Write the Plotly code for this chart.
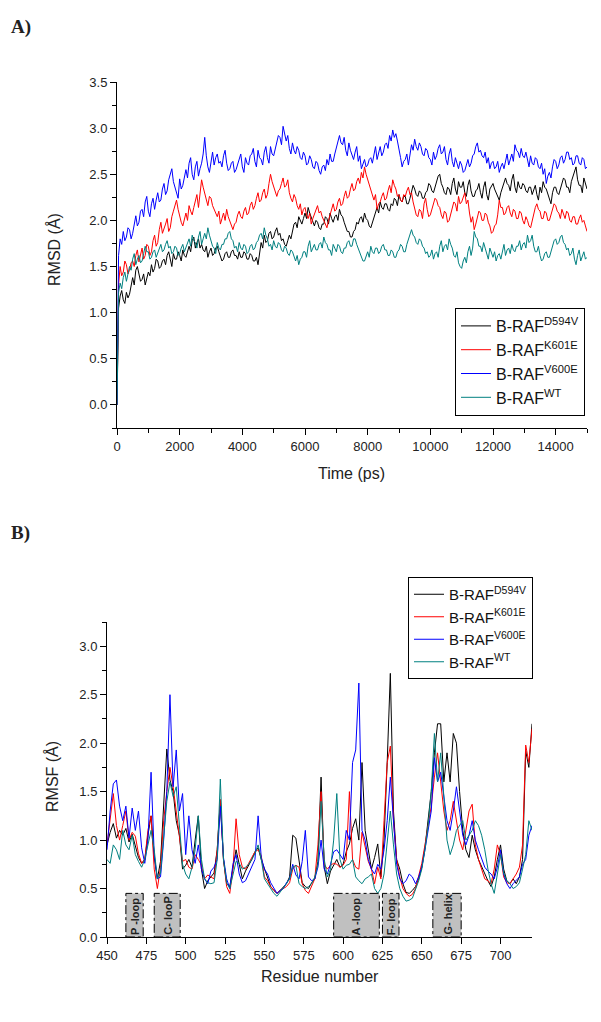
import plotly.graph_objects as go

# ---- panel A: RMSD vs time (read every 50 ps) ----
time_ps = list(range(0, 15001, 50))

rmsd_d594v = [
    0.00, 1.05, 1.18, 1.24, 1.14, 1.10, 1.22, 1.16, 1.20, 1.30, 1.38, 1.30, 1.46, 1.50, 1.42, 1.34, 1.36, 1.42, 1.30, 1.38,
    1.44, 1.40, 1.52, 1.44, 1.48, 1.58, 1.56, 1.48, 1.50, 1.56, 1.58, 1.52, 1.62, 1.66, 1.56, 1.50, 1.64, 1.58, 1.58, 1.66,
    1.62, 1.56, 1.68, 1.62, 1.60, 1.66, 1.72, 1.66, 1.78, 1.82, 1.70, 1.76, 1.80, 1.70, 1.74, 1.68, 1.66, 1.72, 1.60, 1.66,
    1.70, 1.62, 1.64, 1.70, 1.72, 1.66, 1.62, 1.56, 1.58, 1.64, 1.66, 1.60, 1.60, 1.66, 1.68, 1.62, 1.62, 1.58, 1.66, 1.60,
    1.60, 1.66, 1.64, 1.58, 1.58, 1.64, 1.62, 1.56, 1.56, 1.60, 1.52, 1.62, 1.76, 1.70, 1.84, 1.76, 1.78, 1.86, 1.88, 1.80,
    1.82, 1.88, 1.92, 1.84, 1.86, 1.78, 1.80, 1.74, 1.72, 1.78, 1.84, 1.80, 1.90, 1.96, 1.98, 1.92, 2.04, 2.00, 1.96, 2.02,
    2.08, 2.02, 2.14, 2.08, 2.04, 1.98, 1.94, 2.00, 1.98, 1.92, 1.90, 1.96, 1.96, 2.04, 2.02, 1.96, 2.08, 2.02, 1.98, 2.04,
    2.06, 2.00, 2.12, 2.06, 2.04, 1.98, 1.94, 1.88, 1.88, 1.82, 1.82, 1.88, 1.90, 1.98, 1.96, 2.02, 2.04, 1.98, 2.08, 2.02,
    2.00, 1.94, 1.92, 1.98, 2.02, 2.08, 2.14, 2.08, 2.20, 2.14, 2.12, 2.18, 2.18, 2.12, 2.10, 2.18, 2.16, 2.24, 2.22, 2.16,
    2.28, 2.22, 2.20, 2.26, 2.26, 2.18, 2.18, 2.24, 2.30, 2.38, 2.34, 2.28, 2.26, 2.32, 2.30, 2.24, 2.24, 2.30, 2.32, 2.40,
    2.38, 2.32, 2.30, 2.36, 2.42, 2.48, 2.50, 2.40, 2.36, 2.30, 2.28, 2.36, 2.34, 2.28, 2.40, 2.46, 2.34, 2.28, 2.42, 2.36,
    2.36, 2.42, 2.30, 2.26, 2.38, 2.44, 2.32, 2.26, 2.26, 2.32, 2.34, 2.40, 2.30, 2.24, 2.36, 2.42, 2.28, 2.22, 2.34, 2.38,
    2.40, 2.34, 2.30, 2.24, 2.22, 2.30, 2.36, 2.42, 2.46, 2.40, 2.38, 2.32, 2.44, 2.50, 2.36, 2.30, 2.42, 2.36, 2.34, 2.40,
    2.38, 2.32, 2.30, 2.36, 2.36, 2.28, 2.32, 2.38, 2.28, 2.22, 2.36, 2.30, 2.42, 2.36, 2.34, 2.28, 2.24, 2.18, 2.30, 2.36,
    2.36, 2.30, 2.28, 2.34, 2.38, 2.46, 2.44, 2.36, 2.36, 2.30, 2.42, 2.48, 2.52, 2.58, 2.44, 2.38, 2.38, 2.30, 2.46, 2.40,
    2.34]

rmsd_k601e = [
    0.00, 1.30, 1.50, 1.40, 1.44, 1.56, 1.52, 1.42, 1.46, 1.54, 1.56, 1.50, 1.62, 1.68, 1.55, 1.64, 1.70, 1.58, 1.62, 1.74,
    1.72, 1.62, 1.66, 1.78, 1.84, 1.72, 1.76, 1.90, 1.98, 1.86, 1.90, 1.96, 2.02, 1.88, 1.92, 2.04, 2.10, 2.16, 2.22, 2.12,
    2.04, 1.98, 1.94, 2.02, 2.08, 2.00, 2.16, 2.10, 2.06, 2.14, 2.20, 2.28, 2.14, 2.30, 2.44, 2.36, 2.30, 2.22, 2.16, 2.26,
    2.24, 2.16, 2.12, 2.06, 2.04, 2.10, 1.96, 2.02, 2.08, 2.00, 2.12, 2.04, 2.00, 1.94, 1.90, 1.96, 1.98, 2.06, 2.10, 2.04,
    2.02, 2.10, 2.14, 2.06, 2.08, 2.16, 2.20, 2.12, 2.16, 2.24, 2.30, 2.20, 2.22, 2.30, 2.34, 2.24, 2.28, 2.40, 2.50, 2.42,
    2.36, 2.30, 2.26, 2.32, 2.34, 2.40, 2.46, 2.36, 2.38, 2.44, 2.30, 2.24, 2.20, 2.28, 2.24, 2.16, 2.12, 2.18, 2.06, 2.12,
    2.14, 2.06, 2.02, 2.08, 1.96, 2.02, 2.06, 2.12, 2.16, 2.08, 2.10, 2.04, 2.00, 1.94, 1.92, 2.00, 2.06, 2.12, 2.18, 2.10,
    2.12, 2.20, 2.24, 2.16, 2.18, 2.26, 2.32, 2.24, 2.26, 2.34, 2.40, 2.32, 2.34, 2.42, 2.46, 2.40, 2.52, 2.46, 2.58, 2.50,
    2.44, 2.38, 2.34, 2.26, 2.22, 2.28, 2.12, 2.18, 2.20, 2.26, 2.30, 2.22, 2.24, 2.32, 2.38, 2.30, 2.44, 2.38, 2.34, 2.26,
    2.28, 2.22, 2.20, 2.28, 2.26, 2.32, 2.36, 2.28, 2.30, 2.20, 2.12, 2.06, 2.04, 2.12, 2.10, 2.02, 2.18, 2.24, 2.12, 2.04,
    2.06, 2.12, 2.16, 2.24, 2.22, 2.16, 2.14, 2.06, 2.02, 2.10, 2.08, 1.98, 2.00, 2.06, 2.12, 2.20, 2.18, 2.10, 2.26, 2.18,
    2.20, 2.26, 2.30, 2.18, 2.22, 2.08, 1.98, 2.04, 1.90, 1.96, 2.02, 2.10, 2.08, 2.00, 2.00, 2.08, 2.06, 1.98, 1.94, 1.86,
    1.88, 1.94, 1.96, 2.06, 2.22, 2.14, 2.14, 2.06, 2.08, 2.14, 2.16, 2.08, 2.04, 2.12, 2.10, 2.02, 2.02, 2.10, 2.08, 2.00,
    1.96, 2.04, 2.00, 1.94, 1.92, 2.00, 2.06, 2.14, 2.18, 2.12, 2.10, 2.02, 2.02, 2.10, 2.08, 2.00, 2.00, 2.06, 2.10, 2.18,
    2.16, 2.10, 2.08, 2.02, 2.12, 2.06, 2.02, 2.10, 2.08, 2.00, 1.98, 2.04, 2.04, 1.96, 1.96, 2.02, 2.06, 1.98, 2.00, 1.94,
    1.88]

rmsd_v600e = [
    0.00, 1.62, 1.80, 1.74, 1.88, 1.78, 1.82, 1.92, 1.90, 1.80, 1.86, 1.96, 2.05, 1.94, 1.98, 2.10, 2.12, 2.04, 2.20, 2.26,
    2.10, 2.04, 2.18, 2.24, 2.12, 2.22, 2.30, 2.20, 2.22, 2.34, 2.40, 2.28, 2.32, 2.44, 2.50, 2.56, 2.42, 2.36, 2.30, 2.24,
    2.45, 2.34, 2.38, 2.48, 2.55, 2.46, 2.62, 2.68, 2.50, 2.44, 2.58, 2.64, 2.48, 2.56, 2.62, 2.72, 2.90, 2.70, 2.58, 2.52,
    2.66, 2.74, 2.60, 2.68, 2.72, 2.62, 2.64, 2.58, 2.70, 2.76, 2.62, 2.54, 2.56, 2.62, 2.64, 2.52, 2.55, 2.60, 2.66, 2.72,
    2.58, 2.52, 2.68, 2.62, 2.60, 2.70, 2.72, 2.78, 2.64, 2.58, 2.76, 2.68, 2.66, 2.60, 2.74, 2.80, 2.68, 2.62, 2.80, 2.72,
    2.70, 2.78, 2.84, 2.92, 2.90, 2.82, 3.02, 2.94, 2.86, 2.92, 2.78, 2.72, 2.84, 2.76, 2.72, 2.80, 2.76, 2.68, 2.66, 2.74,
    2.70, 2.60, 2.62, 2.70, 2.66, 2.58, 2.56, 2.64, 2.62, 2.54, 2.50, 2.58, 2.60, 2.54, 2.66, 2.60, 2.72, 2.64, 2.64, 2.72,
    2.78, 2.86, 2.92, 2.84, 2.82, 2.90, 2.76, 2.70, 2.84, 2.76, 2.70, 2.66, 2.74, 2.80, 2.64, 2.70, 2.56, 2.62, 2.66, 2.58,
    2.60, 2.66, 2.68, 2.62, 2.72, 2.80, 2.66, 2.74, 2.80, 2.70, 2.74, 2.82, 2.84, 2.78, 2.92, 2.86, 2.98, 2.90, 2.94, 2.86,
    2.78, 2.68, 2.58, 2.64, 2.66, 2.72, 2.60, 2.70, 2.82, 2.76, 2.88, 2.80, 2.76, 2.84, 2.80, 2.72, 2.70, 2.78, 2.76, 2.68,
    2.66, 2.60, 2.74, 2.66, 2.70, 2.78, 2.82, 2.72, 2.74, 2.80, 2.66, 2.60, 2.72, 2.78, 2.64, 2.58, 2.68, 2.62, 2.56, 2.64,
    2.60, 2.52, 2.54, 2.60, 2.66, 2.58, 2.62, 2.70, 2.72, 2.80, 2.84, 2.74, 2.76, 2.70, 2.68, 2.74, 2.62, 2.68, 2.56, 2.62,
    2.64, 2.56, 2.58, 2.64, 2.52, 2.58, 2.62, 2.56, 2.66, 2.72, 2.60, 2.66, 2.72, 2.64, 2.82, 2.76, 2.74, 2.68, 2.78, 2.70,
    2.68, 2.74, 2.64, 2.58, 2.70, 2.62, 2.60, 2.68, 2.66, 2.58, 2.56, 2.62, 2.50, 2.56, 2.40, 2.48, 2.52, 2.46, 2.58, 2.66,
    2.64, 2.56, 2.60, 2.68, 2.70, 2.62, 2.66, 2.74, 2.74, 2.66, 2.68, 2.60, 2.62, 2.70, 2.70, 2.62, 2.60, 2.68, 2.66, 2.56,
    2.58]

rmsd_wt = [
    0.00, 1.22, 1.32, 1.26, 1.38, 1.44, 1.34, 1.42, 1.50, 1.46, 1.58, 1.64, 1.52, 1.58, 1.62, 1.54, 1.56, 1.64, 1.72, 1.66,
    1.66, 1.58, 1.60, 1.66, 1.68, 1.60, 1.64, 1.70, 1.74, 1.66, 1.68, 1.74, 1.78, 1.70, 1.72, 1.64, 1.66, 1.72, 1.70, 1.62,
    1.64, 1.70, 1.74, 1.66, 1.70, 1.76, 1.80, 1.72, 1.84, 1.78, 1.76, 1.70, 1.82, 1.88, 1.74, 1.80, 1.86, 1.80, 1.92, 1.84,
    1.78, 1.72, 1.70, 1.64, 1.76, 1.70, 1.68, 1.74, 1.74, 1.80, 1.80, 1.86, 1.88, 1.80, 1.78, 1.70, 1.72, 1.66, 1.76, 1.70,
    1.68, 1.74, 1.72, 1.64, 1.66, 1.72, 1.74, 1.68, 1.70, 1.76, 1.78, 1.84, 1.86, 1.80, 1.92, 1.84, 1.80, 1.72, 1.74, 1.68,
    1.78, 1.72, 1.70, 1.76, 1.74, 1.68, 1.66, 1.72, 1.70, 1.64, 1.62, 1.68, 1.66, 1.60, 1.56, 1.62, 1.52, 1.58, 1.60, 1.66,
    1.66, 1.60, 1.72, 1.78, 1.66, 1.70, 1.74, 1.68, 1.68, 1.74, 1.76, 1.70, 1.82, 1.76, 1.74, 1.68, 1.68, 1.62, 1.74, 1.70,
    1.66, 1.74, 1.72, 1.66, 1.64, 1.70, 1.70, 1.76, 1.78, 1.72, 1.72, 1.80, 1.80, 1.74, 1.70, 1.64, 1.62, 1.56, 1.56, 1.62,
    1.66, 1.60, 1.72, 1.66, 1.64, 1.70, 1.70, 1.64, 1.66, 1.72, 1.74, 1.68, 1.68, 1.62, 1.62, 1.68, 1.66, 1.60, 1.60, 1.66,
    1.68, 1.74, 1.72, 1.66, 1.66, 1.74, 1.80, 1.86, 1.90, 1.84, 1.82, 1.76, 1.74, 1.80, 1.78, 1.72, 1.70, 1.64, 1.66, 1.60,
    1.62, 1.68, 1.58, 1.64, 1.66, 1.60, 1.72, 1.78, 1.66, 1.72, 1.74, 1.68, 1.80, 1.74, 1.70, 1.62, 1.60, 1.66, 1.54, 1.50,
    1.48, 1.56, 1.60, 1.54, 1.66, 1.72, 1.62, 1.70, 1.88, 1.82, 1.80, 1.72, 1.72, 1.66, 1.76, 1.70, 1.64, 1.58, 1.70, 1.64,
    1.60, 1.66, 1.56, 1.62, 1.64, 1.58, 1.68, 1.74, 1.62, 1.68, 1.70, 1.64, 1.74, 1.68, 1.66, 1.72, 1.72, 1.78, 1.68, 1.74,
    1.76, 1.70, 1.84, 1.76, 1.78, 1.84, 1.72, 1.66, 1.66, 1.72, 1.62, 1.56, 1.58, 1.64, 1.66, 1.60, 1.60, 1.66, 1.72, 1.78,
    1.80, 1.74, 1.76, 1.82, 1.84, 1.76, 1.74, 1.68, 1.70, 1.62, 1.64, 1.70, 1.58, 1.52, 1.62, 1.68, 1.56, 1.62, 1.66, 1.58,
    1.60]

# ---- panel B: RMSF per residue (every 2nd residue) ----
residues = list(range(450, 721, 2))

rmsf_d594v = [0.95, 1.08, 1.17, 1.02, 1.10, 1.05, 1.12, 0.98, 1.06, 0.95,
              0.82, 0.76, 0.80, 1.05, 1.25, 0.82, 0.60, 0.78, 1.35, 1.94,
              1.62, 1.50, 1.20, 1.05, 0.70, 0.74, 0.80, 0.72, 1.00, 1.25,
              0.70, 0.50, 0.58, 0.62, 0.66, 0.90, 1.40, 0.80, 0.55, 0.52,
              0.70, 0.90, 0.75, 0.60, 0.68, 0.74, 0.80, 0.88, 0.92, 0.80,
              0.70, 0.62, 0.52, 0.48, 0.45, 0.48, 0.52, 0.55, 0.62, 1.05,
              1.02, 0.80, 0.56, 0.52, 0.50, 0.56, 0.60, 0.78, 1.65, 0.72,
              0.55, 0.68, 0.74, 0.80, 0.72, 0.75, 0.88, 0.96, 1.12, 1.22,
              1.00, 1.80, 1.10, 0.90, 0.70, 0.82, 0.96, 0.62, 1.00, 1.80,
              2.72, 1.30, 0.80, 0.70, 0.55, 0.46, 0.45, 0.48, 0.52, 0.60,
              0.72, 0.92, 1.18, 1.50, 1.90, 2.20, 2.20, 1.60, 1.90, 1.60,
              2.10, 2.00, 1.50, 1.10, 0.90, 0.82, 1.05, 0.90, 0.80, 0.72,
              0.65, 0.58, 0.52, 0.62, 0.80, 0.95, 0.70, 0.58, 0.55, 0.60,
              0.55, 0.62, 0.80, 1.92, 1.75, 2.20]

rmsf_k601e = [0.95, 1.25, 1.48, 1.15, 1.00, 1.15, 1.30, 1.00, 1.08, 1.04,
              0.86, 0.76, 0.80, 1.10, 1.25, 0.70, 0.50, 0.72, 1.20, 1.50,
              1.75, 1.55, 1.30, 1.00, 0.78, 0.80, 0.72, 0.70, 0.85, 0.80,
              0.74, 0.60, 0.64, 0.62, 0.60, 0.90, 1.42, 0.80, 0.52, 0.45,
              0.70, 1.22, 0.85, 0.72, 0.70, 0.76, 0.82, 0.88, 0.90, 0.84,
              0.62, 0.58, 0.52, 0.48, 0.45, 0.48, 0.50, 0.52, 0.56, 0.70,
              0.74, 0.72, 0.55, 0.48, 0.45, 0.52, 0.60, 0.95, 1.50, 0.75,
              0.70, 0.74, 0.76, 0.75, 0.72, 0.74, 0.80, 1.50, 0.80, 0.72,
              0.70, 1.08, 0.92, 0.78, 0.70, 0.55, 0.72, 0.60, 1.20, 1.80,
              1.97, 1.20, 0.80, 0.62, 0.50, 0.45, 0.42, 0.44, 0.50, 0.62,
              0.76, 0.95, 1.15, 1.35, 1.65, 1.90, 1.60, 1.30, 1.10, 1.20,
              1.40, 1.20, 1.00, 0.90, 1.10, 1.30, 1.37, 0.95, 0.80, 0.70,
              0.60, 0.58, 0.55, 0.70, 0.95, 0.85, 0.62, 0.56, 0.55, 0.60,
              0.65, 0.72, 0.95, 1.98, 1.80, 2.15]

rmsf_v600e = [0.90, 1.30, 1.58, 1.62, 1.35, 1.20, 1.35, 1.02, 1.33, 1.10,
              1.30, 0.92, 0.76, 1.00, 1.70, 0.85, 0.60, 0.62, 1.00, 1.50,
              2.50, 1.55, 1.93, 1.30, 1.48, 0.85, 1.25, 0.90, 0.76, 0.95,
              0.70, 0.60, 0.55, 0.68, 0.72, 0.80, 1.35, 0.82, 0.60, 0.50,
              0.75, 0.85, 0.65, 0.56, 0.58, 0.65, 0.72, 0.80, 1.25, 0.82,
              0.70, 0.65, 0.56, 0.50, 0.45, 0.48, 0.50, 0.56, 0.60, 0.75,
              0.64, 0.60, 0.78, 1.10, 0.62, 0.58, 0.60, 0.72, 1.00, 0.70,
              0.65, 0.75, 0.88, 0.90, 0.85, 0.80, 1.10, 1.00, 1.80, 1.93,
              2.62, 1.10, 1.00, 0.80, 0.70, 0.65, 0.75, 0.70, 0.90, 1.20,
              1.65, 1.20, 0.75, 0.60, 0.55, 0.58, 0.65, 0.62, 0.55, 0.62,
              0.72, 0.90, 1.10, 1.30, 1.85, 1.60, 1.70, 1.45, 1.20, 1.10,
              1.30, 1.55, 1.30, 1.05, 0.95, 1.05, 1.20, 1.00, 0.90, 0.80,
              0.72, 0.68, 0.65, 0.60, 0.72, 0.90, 0.65, 0.55, 0.50, 0.55,
              0.58, 0.62, 0.75, 0.80, 1.05, 1.15]

rmsf_wt = [0.80, 0.76, 0.95, 0.90, 0.80, 1.10, 0.95, 0.90, 1.05, 0.85,
           0.78, 0.72, 0.80, 0.95, 1.10, 0.90, 0.60, 0.66, 1.00, 1.40,
           1.60, 1.45, 1.55, 1.10, 0.75, 0.65, 0.60, 0.72, 0.90, 1.25,
           0.80, 0.60, 0.56, 0.55, 0.56, 0.80, 1.63, 0.80, 0.56, 0.50,
           0.65, 0.78, 0.76, 0.70, 0.72, 0.75, 0.80, 0.86, 0.95, 0.80,
           0.60, 0.55, 0.50, 0.45, 0.42, 0.46, 0.50, 0.55, 0.60, 0.72,
           0.74, 0.55, 0.52, 0.50, 0.52, 0.55, 0.62, 0.75, 1.40, 0.80,
           0.62, 0.70, 1.00, 1.48, 0.80, 0.70, 0.74, 0.75, 0.80, 0.62,
           0.58, 0.55, 0.60, 0.62, 0.65, 0.50, 0.45, 0.50, 0.65, 0.95,
           1.30, 0.95, 0.65, 0.50, 0.42, 0.37, 0.38, 0.40, 0.48, 0.58,
           0.70, 0.90, 1.15, 1.50, 2.10, 1.60, 1.90, 1.40, 1.00, 0.85,
           0.95, 1.10, 1.15, 1.20, 1.00, 1.05, 1.10, 1.20, 1.15, 1.05,
           0.90, 0.70, 0.55, 0.45, 0.65, 0.85, 0.66, 0.58, 0.55, 0.50,
           0.52, 0.56, 0.70, 0.85, 1.20, 1.10]

# structural regions marked under the RMSF curves
region_labels = ["P -loop", "C- looP", "A -loop", "F- loop", "G- helix"]
region_start = [462, 480, 594, 625, 657]
region_end = [473, 496.5, 623, 635.5, 675]
region_top = 0.45

names = ["B-RAF<sup>D594V</sup>", "B-RAF<sup>K601E</sup>",
         "B-RAF<sup>V600E</sup>", "B-RAF<sup>WT</sup>"]
colors = ["#000000", "#ff0000", "#0000ff", "#008080"]

FONT = "Liberation Sans, Arial, sans-serif"
SERIF = "Liberation Serif, Times New Roman, serif"

# page has an 8px body margin, so the figure is sized to fit inside it
OFF = 8
W, H = 601 - 2 * OFF, 1022 - 2 * OFF


def fx(px):
    return (px - OFF) / W


def fy(py):
    return 1 - (py - OFF) / H


fig = go.Figure()

for name, col, ys in zip(names, colors, [rmsd_d594v, rmsd_k601e, rmsd_v600e, rmsd_wt]):
    fig.add_trace(go.Scatter(x=time_ps, y=ys, mode="lines", name=name,
                             line=dict(color=col, width=1),
                             xaxis="x", yaxis="y", legend="legend"))

for name, col, ys in zip(names, colors, [rmsf_d594v, rmsf_k601e, rmsf_v600e, rmsf_wt]):
    fig.add_trace(go.Scatter(x=residues, y=ys, mode="lines", name=name,
                             line=dict(color=col, width=1),
                             xaxis="x2", yaxis="y2", legend="legend2"))

shapes = []
annots = []
for lab, x0, x1 in zip(region_labels, region_start, region_end):
    shapes.append(dict(type="rect", xref="x2", yref="y2", x0=x0, x1=x1,
                       y0=0, y1=region_top, fillcolor="#c0c0c0",
                       line=dict(color="black", width=1, dash="dashdot"),
                       layer="above"))
    annots.append(dict(text="<b>%s</b>" % lab, xref="x2", yref="y2",
                       x=(x0 + x1) / 2, y=0.0, xanchor="center", yanchor="bottom",
                       textangle=-90, showarrow=False,
                       font=dict(size=11, color="#222", family=FONT)))


def label(text, px, py, size=16, angle=0, family=FONT, xanchor="center"):
    return dict(text=text, xref="paper", yref="paper", x=fx(px), y=fy(py),
                xanchor=xanchor, yanchor="middle", textangle=angle, showarrow=False,
                font=dict(size=size, family=family, color="#222"))


annots += [
    label("<b>A)</b>", 9, 27, size=19, family=SERIF, xanchor="left"),
    label("<b>B)</b>", 9, 533, size=19, family=SERIF, xanchor="left"),
    label("Time (ps)", 351, 473),
    label("RMSD (Å)", 54, 250, angle=-90),
    label("Residue number", 320, 976),
    label("RMSF (Å)", 52, 777, angle=-90),
]

axis_style = dict(showgrid=False, zeroline=False, showline=True, linecolor="black",
                  linewidth=1, ticks="outside", ticklen=6, tickcolor="black",
                  automargin=False,
                  tickfont=dict(size=13, family=FONT, color="#222"))
minor_y = dict(dtick=0.25, ticks="outside", ticklen=4, tickcolor="black")

fig.update_layout(
    width=W, height=H, autosize=False,
    margin=dict(l=0, r=0, t=0, b=0, pad=0, autoexpand=False),
    paper_bgcolor="white", plot_bgcolor="white",
    font=dict(family=FONT, color="#222"),
    xaxis=dict(domain=[fx(117), fx(587)], anchor="y", range=[0, 15000],
               tick0=0, dtick=2000, tickformat="d",
               minor=dict(dtick=1000, ticks="outside", ticklen=4, tickcolor="black"),
               **axis_style),
    yaxis=dict(domain=[fy(428), fy(82)], anchor="x", range=[-0.25, 3.5],
               tick0=0, dtick=0.5, tickformat=".1f", minor=minor_y, **axis_style),
    xaxis2=dict(domain=[fx(107), fx(532)], anchor="y2", range=[450, 720],
                tick0=450, dtick=25, **axis_style),
    yaxis2=dict(domain=[fy(937), fy(622)], anchor="x2", range=[0, 3.25],
                tick0=0, dtick=0.5, tickformat=".1f", minor=minor_y, **axis_style),
    legend=dict(x=fx(585), y=fy(416), xanchor="right", yanchor="bottom",
                bordercolor="black", borderwidth=1, bgcolor="white",
                font=dict(size=16, family=FONT, color="#111"), tracegroupgap=0),
    legend2=dict(x=fx(533), y=fy(577), xanchor="right", yanchor="top",
                 bordercolor="black", borderwidth=1, bgcolor="white",
                 font=dict(size=15, family=FONT, color="#111"), tracegroupgap=0),
    shapes=shapes,
    annotations=annots,
)

fig.write_html("out.html")
